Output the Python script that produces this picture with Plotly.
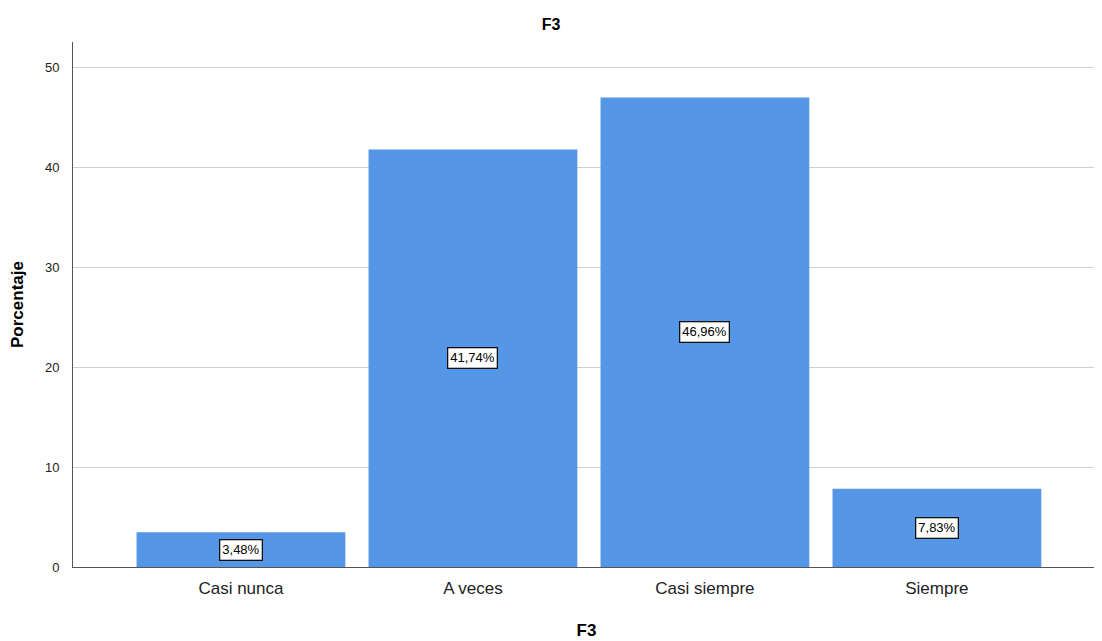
import plotly.graph_objects as go

categories = ["Casi nunca", "A veces", "Casi siempre", "Siempre"]
values = [3.48, 41.74, 46.96, 7.83]
labels = ["3,48%", "41,74%", "46,96%", "7,83%"]

fig = go.Figure()
fig.add_trace(go.Bar(x=categories, y=values, marker=dict(color="#5596E6", line=dict(width=0)),
                     width=0.9, hoverinfo="skip"))

for c, v, t in zip(categories, values, labels):
    fig.add_annotation(x=c, y=v / 2, text=t, showarrow=False,
                       font=dict(family="Liberation Sans, Arial", size=13, color="black"),
                       bgcolor="white", bordercolor="#111111", borderwidth=1.3, borderpad=2)

fig.update_layout(
    width=1094, height=633,
    margin=dict(l=65, r=2, t=34, b=74),
    paper_bgcolor="white", plot_bgcolor="white",
    showlegend=False,
    title=dict(text="<b>F3</b>", x=0.4965, xanchor="center", y=0.974, yanchor="middle",
               font=dict(family="Liberation Sans, Arial", size=16, color="black")),
    xaxis=dict(type="category", range=[-0.724, 3.703],
               showline=True, linecolor="#555555", linewidth=1, ticks="",
               ticklabelstandoff=6,
               tickfont=dict(family="Liberation Sans, Arial", size=17, color="#222222"),
               title=dict(text="<b>F3</b>", standoff=26,
                          font=dict(family="Liberation Sans, Arial", size=17, color="black")),
               showgrid=False),
    yaxis=dict(range=[0, 52.5], tickvals=[0, 10, 20, 30, 40, 50],
               showline=True, linecolor="#555555", linewidth=1, ticks="",
               ticklabelstandoff=10,
               tickfont=dict(family="Liberation Sans, Arial", size=13, color="#222222"),
               showgrid=True, gridcolor="#d0d0d0", gridwidth=1, zeroline=False,
               title=dict(text="<b>Porcentaje</b>", standoff=16,
                          font=dict(family="Liberation Sans, Arial", size=17, color="black"))),
)

fig.write_html("out.html")
